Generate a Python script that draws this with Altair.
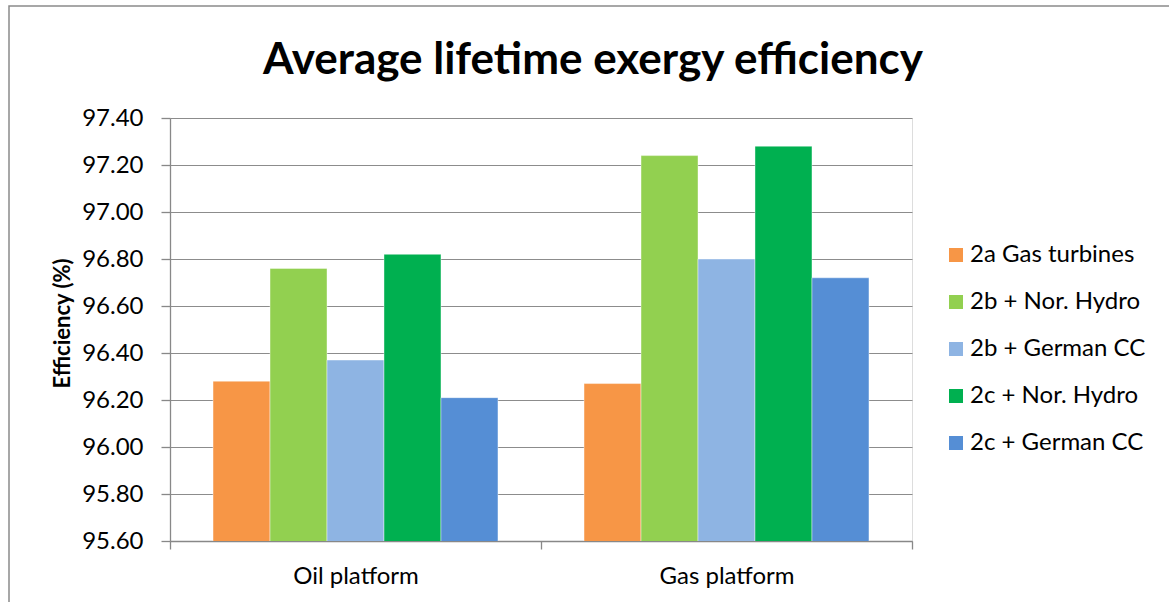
import altair as alt
import pandas as pd

platforms = ["Oil platform", "Gas platform"]
series = ["2a Gas turbines", "2b + Nor. Hydro", "2b + German CC", "2c + Nor. Hydro", "2c + German CC"]
colors = ["#F79646", "#92D050", "#8EB4E3", "#00B050", "#558ED5"]
oil_values = [96.28, 96.76, 96.37, 96.82, 96.21]
gas_values = [96.27, 97.24, 96.80, 97.28, 96.72]
y_ticks = [95.6, 95.8, 96.0, 96.2, 96.4, 96.6, 96.8, 97.0, 97.2, 97.4]
title_text = "Average lifetime exergy efficiency"

rows = []
for s, v in zip(series, oil_values):
    rows.append({"platform": platforms[0], "series": s, "value": v})
for s, v in zip(series, gas_values):
    rows.append({"platform": platforms[1], "series": s, "value": v})
df = pd.DataFrame(rows)

FONT = "Lato"
W, H = 742, 423
PL, PT = 170, 118

bars = alt.Chart(df).mark_bar(clip=True, stroke="white", strokeWidth=0.6, strokeOpacity=0.7).encode(
    x=alt.X("platform:N", sort=platforms, title=None,
            scale=alt.Scale(paddingInner=0, paddingOuter=0),
            axis=alt.Axis(labelAngle=0, labelFontSize=24, labelFont=FONT, labelColor="#000",
                          tickBand="extent", tickSize=8, tickColor="#888", tickWidth=1.3,
                          domainColor="#888", domainWidth=1.3, labelPadding=15, grid=False)),
    xOffset=alt.XOffset("series:N", sort=series,
                        scale=alt.Scale(paddingInner=0, paddingOuter=0.755)),
    y=alt.Y("value:Q", title="Efficiency (%)",
            scale=alt.Scale(domain=[95.6, 97.4], zero=False, nice=False),
            axis=alt.Axis(values=y_ticks, format=".2f", labelFontSize=24, labelFont=FONT,
                          labelColor="#000", tickSize=9, tickColor="#888", tickWidth=1.3,
                          domainColor="#888", domainWidth=1.3, labelPadding=18,
                          gridColor="#8c8c8c", gridWidth=1.2,
                          titleFontSize=22, titleFont=FONT, titleFontWeight="bold",
                          titleColor="#000", titleAngle=-90, titleX=62 - PL,
                          titleY=323 - PT, titleAlign="center", titleBaseline="middle")),
    color=alt.Color("series:N", sort=series,
                    scale=alt.Scale(domain=series, range=colors),
                    legend=alt.Legend(title=None, orient="none", legendX=774, legendY=125,
                                      symbolType="square", symbolSize=196, symbolStrokeWidth=0,
                                      symbolOpacity=1, labelLimit=400,
                                      labelFontSize=24, labelFont=FONT, labelColor="#000",
                                      labelOffset=2, rowPadding=23)),
)

border = alt.Chart(pd.DataFrame({"k": [0]})).mark_rect(
    fill=None, stroke="#8a8a8a", strokeWidth=1.5
).encode(
    x=alt.value(9 - PL), x2=alt.value(1300 - PL),
    y=alt.value(6 - PT), y2=alt.value(700 - PT),
)

title = alt.Chart(pd.DataFrame({"t": [title_text]})).mark_text(
    font=FONT, fontSize=44, fontWeight="bold", color="#000",
    align="center", baseline="alphabetic"
).encode(
    text="t:N", x=alt.value(593 - PL), y=alt.value(74 - PT)
)

chart = alt.layer(border, bars, title).properties(
    width=W, height=H,
    autosize=alt.AutoSizeParams(type="none"),
    padding={"left": PL, "top": PT, "right": 1169 - PL - W, "bottom": 602 - PT - H},
).configure_view(stroke=None).configure(background="white")

chart.save("out.html", embed_options={"renderer": "svg", "actions": False})
